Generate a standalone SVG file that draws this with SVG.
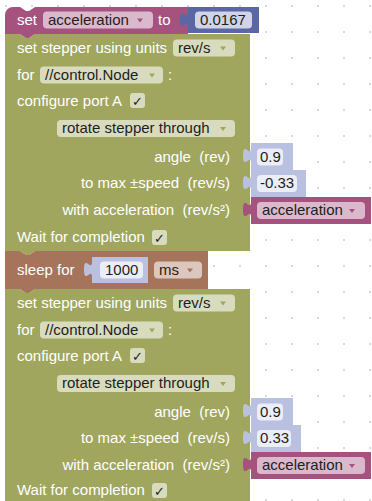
<svg xmlns="http://www.w3.org/2000/svg" width="372" height="501" viewBox="0 0 372 501">
<defs>
<pattern id="grid" width="26" height="26" patternUnits="userSpaceOnUse">
<circle cx="6" cy="6" r="1.1" fill="#cfcfcf"/>
</pattern>
</defs>
<style>
.t{font-family:"Liberation Sans",Arial,sans-serif;font-size:15px;fill:#fff;white-space:pre}
.ft{font-family:"Liberation Sans",Arial,sans-serif;font-size:15px;fill:#1e1e1e;white-space:pre}
.ck{font-family:"DejaVu Sans",sans-serif;font-size:13px;fill:#1e1e1e;text-anchor:middle}
.fld{fill:#fff;fill-opacity:.6}
.fldw{fill:#fff;fill-opacity:.72}
.pink{fill:#a5527f}
.blue{fill:#5b67a5}
.lblue{fill:#b9c0e0}
.green{fill:#a0a65e}
.brown{fill:#a5745b}
.r{text-anchor:end}
</style>
<rect width="372" height="501" fill="#fff"/>
<rect width="372" height="501" fill="url(#grid)"/>
<g id="connectors"/>

<g id="stepper1">
<path class="green" d="M5,34 H20 l6,4 h3 l6,-4 H250 V251 H35 l-6,4 h-3 l-6,-4 H5 Z"/>
<text class="t" x="17" y="53">set stepper using units</text>
<rect class="fld" x="173" y="39.5" width="62" height="17" rx="4"/>
<text class="ft" x="178" y="53">rev/s</text>
<path class="green" d="M220,46.5 h6 l-3,4 z"/>
<text class="t" x="17" y="80">for</text>
<rect class="fld" x="40" y="66.5" width="123" height="17" rx="4"/>
<text class="ft" x="45" y="80">//control.Node</text>
<path class="green" d="M149,73.5 h6 l-3,4 z"/>
<text class="t" x="168" y="80">:</text>
<text class="t" x="17" y="106">configure port A</text>
<rect class="fld" x="130" y="93" width="15" height="15" rx="3"/>
<text class="ck" x="137.5" y="105.5">✓</text>
<rect class="fld" x="57" y="120" width="178" height="17" rx="4"/>
<text class="ft" x="62" y="133">rotate stepper through</text>
<path class="green" d="M220,127 h6 l-3,4 z"/>
<text class="t r" x="230" y="162">angle  (rev)</text>
<text class="t r" x="230" y="188">to max ±speed  (rev/s)</text>
<text class="t r" x="230" y="215">with acceleration  (rev/s²)</text>
<text class="t" x="17" y="242">Wait for completion</text>
<rect class="fld" x="152" y="230" width="15" height="15" rx="3"/>
<text class="ck" x="159.5" y="242.5">✓</text>
</g>

<g id="angle1">
<path class="lblue" d="M251,143 H293 V170 H251 V163 c0,-10 -8,8 -8,-7.5 s8,2.5 8,-7.5 Z"/>
<rect class="fldw" x="257" y="148.5" width="26" height="17" rx="4"/>
<text class="ft" x="260" y="162">0.9</text>
</g>
<g id="speed1">
<path class="lblue" d="M251,170 H306 V197 H251 V190 c0,-10 -8,8 -8,-7.5 s8,2.5 8,-7.5 Z"/>
<rect class="fldw" x="257" y="175" width="40" height="17" rx="4"/>
<text class="ft" x="260" y="188">-0.33</text>
</g>
<g id="accel1">
<path class="pink" d="M251,197 H371 V224 H251 V217 c0,-10 -8,8 -8,-7.5 s8,2.5 8,-7.5 Z"/>
<rect class="fld" x="257" y="202" width="108" height="17" rx="4"/>
<text class="ft" x="262" y="215">acceleration</text>
<path class="pink" d="M349,209 h6 l-3,4 z"/>
</g>

<g id="setvar">
<path class="pink" d="M5,15 A8,8 0 0 1 13,7 H20 l6,4 h3 l6,-4 H188 V34 H35 l-6,4 h-3 l-6,-4 H5 Z"/>
<text class="t" x="17" y="25">set</text>
<rect class="fld" x="43" y="11.5" width="110" height="17" rx="4"/>
<text class="ft" x="48" y="25">acceleration</text>
<path class="pink" d="M137,18.5 h6 l-3,4 z"/>
<text class="t" x="158" y="25">to</text>
</g>
<g id="value0167">
<path class="blue" d="M188,7 H259 V33 H188 V27 c0,-10 -8,8 -8,-7.5 s8,2.5 8,-7.5 Z"/>
<rect class="fldw" x="195" y="11.5" width="57" height="17" rx="4"/>
<text class="ft" x="200" y="25">0.0167</text>
</g>

<g id="stepper2">
<path class="green" d="M5,289 H20 l6,4 h3 l6,-4 H250 V510 H5 Z"/>
<text class="t" x="17" y="308">set stepper using units</text>
<rect class="fld" x="173" y="294.5" width="62" height="17" rx="4"/>
<text class="ft" x="178" y="308">rev/s</text>
<path class="green" d="M220,301.5 h6 l-3,4 z"/>
<text class="t" x="17" y="335">for</text>
<rect class="fld" x="40" y="321.5" width="123" height="17" rx="4"/>
<text class="ft" x="45" y="335">//control.Node</text>
<path class="green" d="M149,328.5 h6 l-3,4 z"/>
<text class="t" x="168" y="335">:</text>
<text class="t" x="17" y="361">configure port A</text>
<rect class="fld" x="130" y="348" width="15" height="15" rx="3"/>
<text class="ck" x="137.5" y="360.5">✓</text>
<rect class="fld" x="57" y="375" width="178" height="17" rx="4"/>
<text class="ft" x="62" y="388">rotate stepper through</text>
<path class="green" d="M220,382 h6 l-3,4 z"/>
<text class="t r" x="230" y="417">angle  (rev)</text>
<text class="t r" x="230" y="443">to max ±speed  (rev/s)</text>
<text class="t r" x="230" y="470">with acceleration  (rev/s²)</text>
<text class="t" x="17" y="495">Wait for completion</text>
<rect class="fld" x="152" y="483" width="15" height="15" rx="3"/>
<text class="ck" x="159.5" y="495.5">✓</text>
</g>

<g id="angle2">
<path class="lblue" d="M251,398 H293 V425 H251 V418 c0,-10 -8,8 -8,-7.5 s8,2.5 8,-7.5 Z"/>
<rect class="fldw" x="257" y="403.5" width="26" height="17" rx="4"/>
<text class="ft" x="260" y="417">0.9</text>
</g>
<g id="speed2">
<path class="lblue" d="M251,425 H301 V452 H251 V445 c0,-10 -8,8 -8,-7.5 s8,2.5 8,-7.5 Z"/>
<rect class="fldw" x="257" y="430" width="34" height="17" rx="4"/>
<text class="ft" x="260" y="443">0.33</text>
</g>
<g id="accel2">
<path class="pink" d="M251,452 H371 V479 H251 V472 c0,-10 -8,8 -8,-7.5 s8,2.5 8,-7.5 Z"/>
<rect class="fld" x="257" y="457" width="108" height="17" rx="4"/>
<text class="ft" x="262" y="470">acceleration</text>
<path class="pink" d="M349,464 h6 l-3,4 z"/>
</g>

<g id="sleep">
<path class="brown" d="M5,251 H20 l6,4 h3 l6,-4 H208 V289 H35 l-6,4 h-3 l-6,-4 H5 Z"/>
<text class="t" x="17" y="275">sleep for</text>
<rect class="fld" x="154" y="261.5" width="48" height="17" rx="4"/>
<text class="ft" x="159" y="275">ms</text>
<path class="brown" d="M187,268.5 h6 l-3,4 z"/>
</g>
<g id="value1000">
<path class="lblue" d="M92,257 H148 V283 H92 V277 c0,-10 -8,8 -8,-7.5 s8,2.5 8,-7.5 Z"/>
<rect class="fldw" x="100" y="261.5" width="43" height="17" rx="4"/>
<text class="ft" x="105" y="275">1000</text>
</g>
</svg>
